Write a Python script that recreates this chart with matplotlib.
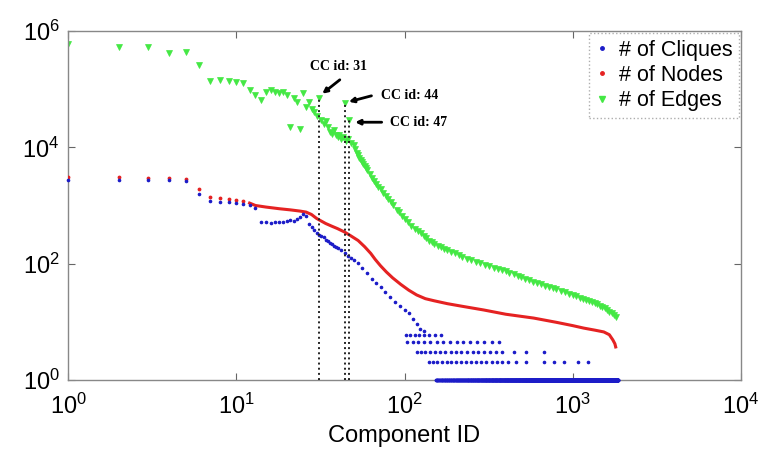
import numpy as np
import matplotlib
matplotlib.use("Agg")
import matplotlib.pyplot as plt

plt.rcParams["font.family"] = ["Liberation Sans", "DejaVu Sans"]
plt.rcParams["mathtext.default"] = "regular"

# ---- data -------------------------------------------------------------
# number of edges per connected component
edges_id = [1, 2, 3, 4, 5, 6, 7, 8, 9, 10, 11, 12, 13, 14, 15, 16, 17, 18, 19, 20,
            21, 22, 23, 24, 25, 26, 27, 28, 29, 30, 31, 32, 33, 34, 35, 36, 37, 38, 39, 40,
            41, 42, 43, 44, 45, 46, 47, 48, 50, 51, 52, 53, 54, 55, 56, 57, 58, 59, 60,
            62, 64, 66, 68, 70, 72, 75, 78, 80, 83, 86, 90, 93, 97, 100, 105, 110, 115,
            120, 125, 130, 135, 140, 145, 150, 158, 165, 172, 180, 190, 200, 210, 220,
            235, 250, 265, 280, 300, 320, 340, 360, 380, 400, 420, 445, 470, 495, 520,
            550, 580, 615, 650, 685, 720, 760, 800, 850, 900, 950, 1000, 1050, 1100,
            1150, 1200, 1250, 1300, 1350, 1400, 1450, 1500, 1550, 1600, 1650, 1700,
            1750, 1800]
edges_val = [6.0e5, 5.3e5, 5.3e5, 4.2e5, 4.4e5, 2.6e5, 1.4e5, 1.45e5, 1.4e5, 1.35e5,
             1.3e5, 9.6e4, 8.0e4, 6.5e4, 9.0e4, 9.5e4, 9.0e4, 8.5e4, 9.0e4, 8.0e4,
             2.2e4, 7.0e4, 6.0e4, 2.1e4, 8.5e4, 5.0e4, 6.0e4, 4.5e4, 4.0e4, 3.5e4,
             7.0e4, 3.0e4, 2.5e4, 2.8e4, 2.2e4, 1.8e4, 1.7e4, 2.0e4, 1.6e4, 1.5e4,
             1.6e4, 1.4e4, 1.5e4, 5.8e4, 1.3e4, 1.4e4, 3.0e4, 1.2e4, 1.1e4, 9.5e3,
             8.0e3, 7.5e3, 6.5e3, 6.0e3, 5.5e3, 5.2e3, 4.8e3, 4.4e3, 4.0e3,
             3.5e3, 3.0e3, 2.6e3, 2.35e3, 2.1e3, 1.9e3, 1.65e3, 1.45e3, 1.3e3, 1.15e3,
             1.02e3, 850, 760, 650, 580, 510, 450, 400,
             360, 330, 300, 275, 250, 235, 220, 205, 190, 180, 170, 160, 150, 140, 132,
             122, 115, 108, 102, 95, 90, 85, 81, 78, 74, 70, 66, 62, 58, 55,
             52, 49, 46, 44, 42, 40, 38, 36, 34, 32, 30.5, 29, 27.5, 26,
             25, 24, 23, 22, 21, 20, 19, 18, 17, 16, 15, 14,
             13, 12]

# number of nodes per connected component (components sorted by size)
nodes_id = [1, 2, 3, 4, 5, 6, 7, 8, 9, 10, 11, 12, 13, 15, 18, 21, 24, 26, 28, 30, 32,
            34, 37, 40, 44, 48, 53, 58, 63, 67, 72, 78, 85, 95, 106, 118, 133, 150, 180,
            220, 295, 400, 586, 800, 1000, 1162, 1350, 1530, 1650, 1730, 1780, 1800]
nodes_val = [3100, 3100, 3000, 3000, 2900, 1900, 1400, 1350, 1300, 1250, 1200, 1100,
             1000, 940, 880, 840, 800, 770, 700, 600, 540, 490, 440, 400, 350, 300, 250,
             195, 150, 118, 92, 72, 57, 44, 35, 29, 25, 23, 20.5, 18.5, 16, 13.5, 11.6,
             9.8, 8.6, 7.8, 7.2, 6.7, 6.0, 4.9, 4.2, 3.7]

# number of maximal cliques per connected component
cliques_id = [1, 2, 3, 4, 5, 6, 7, 8, 9, 10, 11, 12, 13, 14, 15, 16, 17, 18, 19, 20,
              21, 22, 23, 24, 25, 26, 27, 28, 29, 30, 31, 32, 33, 34, 35, 36, 37, 38, 39,
              40, 42, 44, 46, 48, 50, 53, 56, 60, 64, 68, 72, 77, 82, 88, 94, 100, 106,
              112, 118, 124, 130]
cliques_val = [2700, 2700, 2700, 2700, 2600, 1600, 1200, 1150, 1150, 1100, 1050, 1000,
               900, 520, 510, 500, 510, 520, 530, 540, 560, 550, 580, 640, 700, 650, 480,
               420, 380, 340, 310, 300, 285, 260, 250, 230, 215, 205, 195, 185, 170, 150,
               135, 125, 115, 102, 85, 68, 55, 46, 40, 32, 27, 22, 19, 16, 14, 11, 9,
               7.5, 7]
# small components: clique counts take only a few integer values
cliques_6_id = [102, 108, 115, 122, 130, 140, 152, 165]
cliques_4_id = [104, 112, 121, 131, 142, 155, 170, 186, 204, 224, 246, 270, 297, 330, 365]
cliques_3_id = [118, 125, 133, 142, 152, 163, 175, 188, 202, 218, 235, 254, 275, 298,
                323, 350, 380, 445, 527, 672]
cliques_2_id = [140, 148, 157, 167, 178, 190, 203, 217, 232, 248, 266, 285, 306, 329,
                354, 380, 410, 457, 527, 672, 771, 884, 1070, 1228]
cliques_1_range = (153, 1850)

marked_cc = [31, 44, 47]

# ---- figure -----------------------------------------------------------
fig = plt.figure(figsize=(7.61, 4.49), dpi=100)
ax = fig.add_axes([0.0894, 0.1537, 0.8843, 0.7773])

c_red = "#e52222"
c_blue = "#1c1cc8"
c_green = "#44e844"

ax.plot(edges_id, edges_val, linestyle="none", marker="v", markersize=4,
        color=c_green, markeredgewidth=0.5, label="# of Edges", zorder=2)

nid = np.array(nodes_id)
nval = np.array(nodes_val)
ax.plot(nid[nid >= 12], nval[nid >= 12], "-", color=c_red, lw=2.2, zorder=3)
ax.plot(nid[nid < 12], nval[nid < 12], linestyle="none", marker=".", markersize=3.5,
        color=c_red, zorder=3)

c1 = np.arange(cliques_1_range[0], cliques_1_range[1] + 1)
cl_x = np.concatenate([cliques_id, cliques_6_id, cliques_4_id, cliques_3_id,
                       cliques_2_id, c1])
cl_y = np.concatenate([cliques_val, np.full(len(cliques_6_id), 6.0),
                       np.full(len(cliques_4_id), 4.5), np.full(len(cliques_3_id), 3.0),
                       np.full(len(cliques_2_id), 2.0), np.full(len(c1), 1.0)])
ax.plot(cl_x, cl_y, linestyle="none", marker=".", markersize=3.2, color=c_blue,
        zorder=4, clip_on=False)

# vertical markers at the highlighted components
e_lookup = dict(zip(edges_id, edges_val))
for cc in marked_cc:
    ax.plot([cc, cc], [1, e_lookup[cc]], color="#222222", ls=":", lw=1.4, zorder=5)

txt_kw = dict(fontfamily="Liberation Serif", fontweight="bold", fontsize=10, zorder=6)
arr_kw = dict(arrowstyle="-|>", color="k", lw=2.0, mutation_scale=7)
ax.text(40.5, 2.5e5, "CC id: 31", ha="center", va="center", **txt_kw)
ax.annotate("", xy=(31.5, 7.8e4), xytext=(42.5, 1.55e5), arrowprops=arr_kw, zorder=6)
ax.text(72, 7.9e4, "CC id: 44", ha="left", va="center", **txt_kw)
ax.annotate("", xy=(45, 5.9e4), xytext=(66, 7.9e4), arrowprops=arr_kw, zorder=6)
ax.text(82.5, 2.7e4, "CC id: 47", ha="left", va="center", **txt_kw)
ax.annotate("", xy=(49, 2.7e4), xytext=(76, 2.7e4), arrowprops=arr_kw, zorder=6)

ax.set_xscale("log")
ax.set_yscale("log")
ax.set_xlim(1, 1e4)
ax.set_ylim(1, 1e6)
ax.set_xticks([1, 10, 100, 1000, 10000])
ax.set_yticks([1, 1e2, 1e4, 1e6])
ax.minorticks_off()
ax.tick_params(direction="in", labelsize=17, length=5, color="#666666",
               top=True, right=True)
ax.tick_params(axis="x", pad=10)
ax.tick_params(axis="y", pad=6)
for s in ax.spines.values():
    s.set_color("#888888")
    s.set_linewidth(1.0)
ax.set_xlabel("Component ID", fontsize=17, labelpad=4)

# legend entries in order: cliques, nodes, edges
h_cl, = ax.plot([], [], linestyle="none", marker=".", markersize=5, color=c_blue)
h_nd, = ax.plot([], [], linestyle="none", marker=".", markersize=5, color=c_red)
h_ed, = ax.plot([], [], linestyle="none", marker="v", markersize=4, color=c_green)
leg = ax.legend([h_cl, h_nd, h_ed], ["# of Cliques", "# of Nodes", "# of Edges"],
                loc="upper right", fontsize=15.5, frameon=True, fancybox=False,
                borderaxespad=0.1, handlelength=0.6, handletextpad=0.5,
                borderpad=0.3, labelspacing=0.2)
leg.get_frame().set_edgecolor("#999999")
leg.get_frame().set_linestyle(":")
leg.get_frame().set_linewidth(1.0)

fig.savefig("out.png", dpi=100)
